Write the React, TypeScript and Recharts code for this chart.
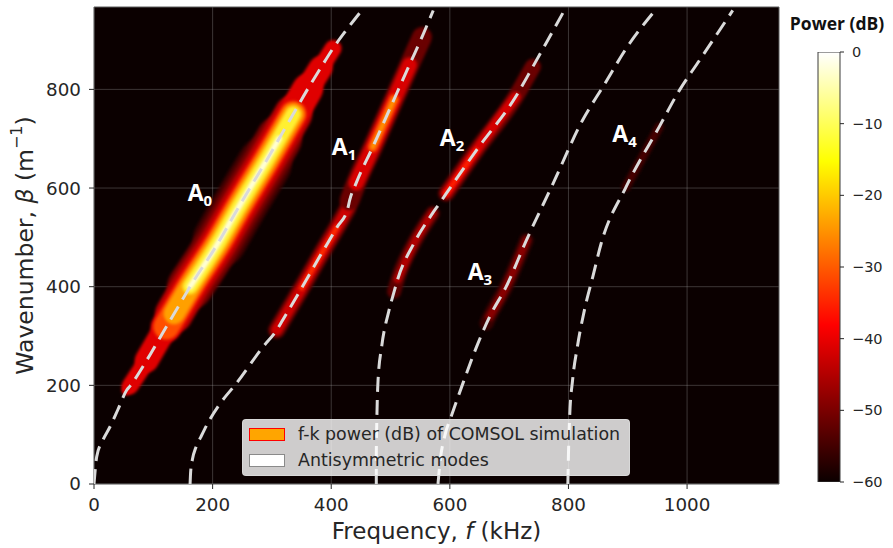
import React from 'react';
import {
  ComposedChart,
  Line,
  Bar,
  Scatter,
  XAxis,
  YAxis,
  CartesianGrid,
  ReferenceArea,
  Label,
} from 'recharts';

type P = { f: number; b: number };
const pts = (arr: number[][]): P[] => arr.map(([f, b]) => ({ f, b }));

// Antisymmetric mode dispersion curves: frequency f (kHz), wavenumber beta (1/m)
const modeA0 = pts([[0, 0], [2, 28], [4.5, 55], [15, 89], [27, 116], [40, 150], [55, 190], [61, 199], [89, 251], [122, 319], [135, 345], [162, 400], [212, 494], [237, 547], [263, 600], [288, 650], [312, 700], [336, 750], [360, 800], [382, 843], [403, 883], [426, 921], [448, 955]]);
const modeA1 = pts([[162, 0], [163, 25], [166, 50], [172, 75], [180, 95], [194, 128], [212, 162], [240, 204], [285, 278], [308, 312], [318, 332], [350, 397], [381, 462], [410, 521], [428, 559], [431, 575], [442, 610], [470, 683], [506, 780], [532, 850], [553, 906], [572, 960]]);
const modeA2 = pts([[476, 0], [476, 60], [477, 136], [479, 211], [485, 278], [497, 350], [506, 390], [512, 415], [539, 487], [571, 549], [582, 568], [594, 589], [645, 677], [711, 785], [740, 846], [762, 893], [793, 960]]);
const modeA3 = pts([[580, 0], [584, 50], [592, 100], [602, 136], [622, 204], [645, 278], [662, 326], [667, 339], [695, 400], [729, 494], [774, 609], [824, 738], [858, 805], [903, 893], [942, 954]]);
const modeA4 = pts([[799, 0], [800, 60], [802, 136], [807, 211], [815, 278], [827, 353], [841, 420], [855, 487], [897, 602], [953, 724], [987, 798], [1021, 859], [1077, 960]]);
const modes = [modeA0, modeA1, modeA2, modeA3, modeA4];

// f-k power bands along the modes: beta range, colour level, band width
type Band = { m: P[]; lo: number; hi: number; c: string; w: number };
const bandsA0: Band[] = [
  { m: modeA0, lo: 494, hi: 650, c: '#3c0000', w: 54 },
  { m: modeA0, lo: 400, hi: 700, c: '#6e0000', w: 46 },
  { m: modeA0, lo: 345, hi: 750, c: '#b00000', w: 38 },
  { m: modeA0, lo: 319, hi: 800, c: '#e00000', w: 31 },
  { m: modeA0, lo: 251, hi: 843, c: '#e00000', w: 24 },
  { m: modeA0, lo: 199, hi: 883, c: '#e00000', w: 17 },
  { m: modeA0, lo: 190, hi: 883, c: '#e00000', w: 10 },
  { m: modeA0, lo: 319, hi: 750, c: '#ff5000', w: 26 },
  { m: modeA0, lo: 345, hi: 750, c: '#ffa000', w: 21 },
  { m: modeA0, lo: 400, hi: 750, c: '#fff030', w: 15 },
  { m: modeA0, lo: 400, hi: 700, c: '#ffffd8', w: 6 },
];
const bandsA1: Band[] = [
  { m: modeA1, lo: 312, hi: 559, c: '#6a0000', w: 17 },
  { m: modeA1, lo: 312, hi: 559, c: '#cc0000', w: 11 },
  { m: modeA1, lo: 397, hi: 521, c: '#ff2a00', w: 5 },
  { m: modeA1, lo: 575, hi: 906, c: '#6a0000', w: 20 },
  { m: modeA1, lo: 610, hi: 850, c: '#d80000', w: 15 },
  { m: modeA1, lo: 683, hi: 780, c: '#ff5000', w: 10 },
  { m: modeA1, lo: 683, hi: 780, c: '#ff9a00', w: 4 },
];
const bandsA2: Band[] = [
  { m: modeA2, lo: 390, hi: 549, c: '#5a0000', w: 14 },
  { m: modeA2, lo: 415, hi: 549, c: '#b00000', w: 8 },
  { m: modeA2, lo: 589, hi: 846, c: '#6a0000', w: 16 },
  { m: modeA2, lo: 589, hi: 785, c: '#d40000', w: 10 },
  { m: modeA2, lo: 589, hi: 677, c: '#ff1a00', w: 5 },
];
const bandsA3: Band[] = [
  { m: modeA3, lo: 326, hi: 494, c: '#3a0000', w: 14 },
  { m: modeA3, lo: 339, hi: 494, c: '#880000', w: 8 },
];
const bandsA4: Band[] = [
  { m: modeA4, lo: 602, hi: 724, c: '#2e0000', w: 10 },
  { m: modeA4, lo: 602, hi: 724, c: '#4a0000', w: 5 },
];
const bands = [...bandsA0, ...bandsA1, ...bandsA2, ...bandsA3, ...bandsA4];

// Mode labels (anchor of the "A")
const modeLabels = [
  { f: 158, b: 573, sub: '0' },
  { f: 401, b: 667, sub: '1' },
  { f: 583, b: 685, sub: '2' },
  { f: 630, b: 413, sub: '3' },
  { f: 874, b: 693, sub: '4' },
];

const xTicks = [0, 200, 400, 600, 800, 1000];
const yTicks = [0, 200, 400, 600, 800];
const xDomain = [0, 1155];
const yDomain = [0, 967];
const cbTicks = [-60, -50, -40, -30, -20, -10, 0];
const cbDomain = [-60, 0];
const cbData = [{ name: 'power', range: [-60, 0] }];
const legendItems = [
  { label: 'f-k power (dB) of COMSOL simulation', fill: '#ffa500', edge: '#ff0000' },
  { label: 'Antisymmetric modes', fill: '#ffffff', edge: '#8a8a8a' },
];

const TICK_FONT = { fontSize: 18.3, fill: '#262626', fontFamily: 'DejaVu Sans' };

const renderXTitle = (p: any) => {
  const vb = p.viewBox;
  return (
    <text
      x={vb.x + vb.width / 2}
      y={vb.y + 47}
      textAnchor="middle"
      dominantBaseline="central"
      fontSize={23}
      fill="#262626"
      fontFamily="DejaVu Sans"
    >
      Frequency, <tspan fontStyle="italic">f</tspan> (kHz)
    </text>
  );
};

const renderYTitle = (p: any) => {
  const vb = p.viewBox;
  const cx = vb.x + 25;
  const cy = vb.y + vb.height / 2;
  return (
    <text
      x={cx}
      y={cy}
      transform={`rotate(-90, ${cx}, ${cy})`}
      textAnchor="middle"
      dominantBaseline="central"
      fontSize={23.5}
      fill="#262626"
      fontFamily="DejaVu Sans"
    >
      Wavenumber, <tspan fontStyle="italic">β</tspan> (m
      <tspan dy={-9} fontSize={16}>−1</tspan>
      <tspan dy={9}>)</tspan>
    </text>
  );
};

const ModeLabel = (props: any) => {
  const { cx, cy, payload } = props;
  return (
    <text x={cx} y={cy} fill="#ffffff" fontFamily="Open Sans" fontWeight={700} fontSize={23}>
      A<tspan dy={5} fontSize={15}>{payload.sub}</tspan>
    </text>
  );
};

const cbFormat = (v: number) => (v < 0 ? `\u2212${-v}` : `${v}`);

export default function App() {
  return (
    <div
      style={{
        position: 'absolute',
        left: 0,
        top: 0,
        width: 893,
        height: 548,
        background: '#ffffff',
        overflow: 'hidden',
        fontFamily: 'DejaVu Sans',
      }}
    >
      <svg width={0} height={0} style={{ position: 'absolute' }}>
        <defs>
          <filter id="soft" filterUnits="userSpaceOnUse" x={0} y={0} width={893} height={548}>
            <feGaussianBlur stdDeviation={1.8} />
          </filter>
          <linearGradient id="hotGrad" x1="0" y1="1" x2="0" y2="0">
            <stop offset="0" stopColor="#0b0000" />
            <stop offset="0.365" stopColor="#ff0000" />
            <stop offset="0.746" stopColor="#ffff00" />
            <stop offset="1" stopColor="#ffffff" />
          </linearGradient>
        </defs>
      </svg>

      <div style={{ position: 'absolute', left: 0, top: 0 }}>
        <ComposedChart width={893} height={548} margin={{ top: 7, right: 114, bottom: 0, left: 0 }}>
          <CartesianGrid fill="#0b0000" stroke="#b0b0b0" strokeOpacity={0.3} verticalValues={xTicks} horizontalValues={yTicks} />
          <XAxis
            type="number"
            dataKey="f"
            domain={xDomain}
            ticks={xTicks}
            allowDataOverflow
            height={64}
            tick={TICK_FONT}
            tickSize={5}
            tickMargin={9}
            tickLine={{ stroke: '#262626' }}
            axisLine={false}
            label={<Label content={renderXTitle} />}
          />
          <YAxis
            type="number"
            dataKey="b"
            domain={yDomain}
            ticks={yTicks}
            allowDataOverflow
            width={94}
            tick={TICK_FONT}
            tickSize={5}
            tickMargin={8}
            tickLine={{ stroke: '#262626' }}
            axisLine={false}
            label={<Label content={renderYTitle} />}
          />
          {bands.map((bd, i) => (
            <Line
              key={`band-${i}`}
              data={bd.m.filter((p) => p.b >= bd.lo && p.b <= bd.hi)}
              dataKey="b"
              type="monotoneX"
              stroke={bd.c}
              strokeWidth={bd.w}
              strokeLinecap="round"
              strokeLinejoin="round"
              filter="url(#soft)"
              dot={false}
              activeDot={false}
              isAnimationActive={false}
            />
          ))}
          {modes.map((m, i) => (
            <Line
              key={`mode-${i}`}
              data={m}
              dataKey="b"
              type="monotoneX"
              stroke="#dadada"
              strokeWidth={3}
              strokeDasharray="15 8"
              dot={false}
              activeDot={false}
              isAnimationActive={false}
            />
          ))}
          <Scatter data={modeLabels} dataKey="b" shape={<ModeLabel />} isAnimationActive={false} />
          <ReferenceArea
            x1={xDomain[0]}
            x2={xDomain[1]}
            y1={yDomain[0]}
            y2={yDomain[1]}
            fill="none"
            stroke="#5c5c5c"
            strokeWidth={1}
            ifOverflow="visible"
          />
        </ComposedChart>
      </div>

      {/* Colorbar */}
      <div style={{ position: 'absolute', left: 800, top: 40 }}>
        <ComposedChart
          width={93}
          height={460}
          margin={{ top: 12, right: 8, bottom: 18, left: 18 }}
          data={cbData}
          barCategoryGap={0}
          barGap={0}
        >
          <XAxis type="category" dataKey="name" hide />
          <YAxis
            type="number"
            orientation="right"
            domain={cbDomain}
            ticks={cbTicks}
            allowDataOverflow
            width={45}
            tick={{ fontSize: 14.5, fill: '#262626', fontFamily: 'DejaVu Sans' }}
            tickFormatter={cbFormat}
            tickSize={4}
            tickMargin={8}
            tickLine={{ stroke: '#262626' }}
            axisLine={false}
          />
          <Bar dataKey="range" fill="url(#hotGrad)" stroke="#3a3a3a" strokeWidth={1} isAnimationActive={false} />
        </ComposedChart>
      </div>
      <div
        style={{
          position: 'absolute',
          left: 777,
          top: 12,
          width: 120,
          textAlign: 'center',
          fontFamily: 'Open Sans',
          fontWeight: 700,
          fontSize: 17.5,
          lineHeight: '22px',
          color: '#111',
        }}
      >
        Power (dB)
      </div>

      {/* Legend */}
      <div
        style={{
          position: 'absolute',
          left: 242,
          top: 419,
          width: 388,
          height: 57,
          boxSizing: 'border-box',
          background: 'rgba(255,255,255,0.8)',
          border: '1px solid rgba(220,220,220,0.8)',
          borderRadius: 4,
        }}
      >
        {legendItems.map((it, i) => (
          <div key={i} style={{ position: 'absolute', left: 6, top: 7 + i * 26, height: 14, display: 'flex', alignItems: 'center' }}>
            <div
              style={{
                width: 36,
                height: 13,
                boxSizing: 'border-box',
                background: it.fill,
                border: `1.5px solid ${it.edge}`,
              }}
            />
            <div
              style={{
                marginLeft: 13,
                fontFamily: 'DejaVu Sans',
                fontSize: 17.4,
                color: '#262626',
                whiteSpace: 'nowrap',
                lineHeight: '14px',
              }}
            >
              {it.label}
            </div>
          </div>
        ))}
      </div>
    </div>
  );
}
